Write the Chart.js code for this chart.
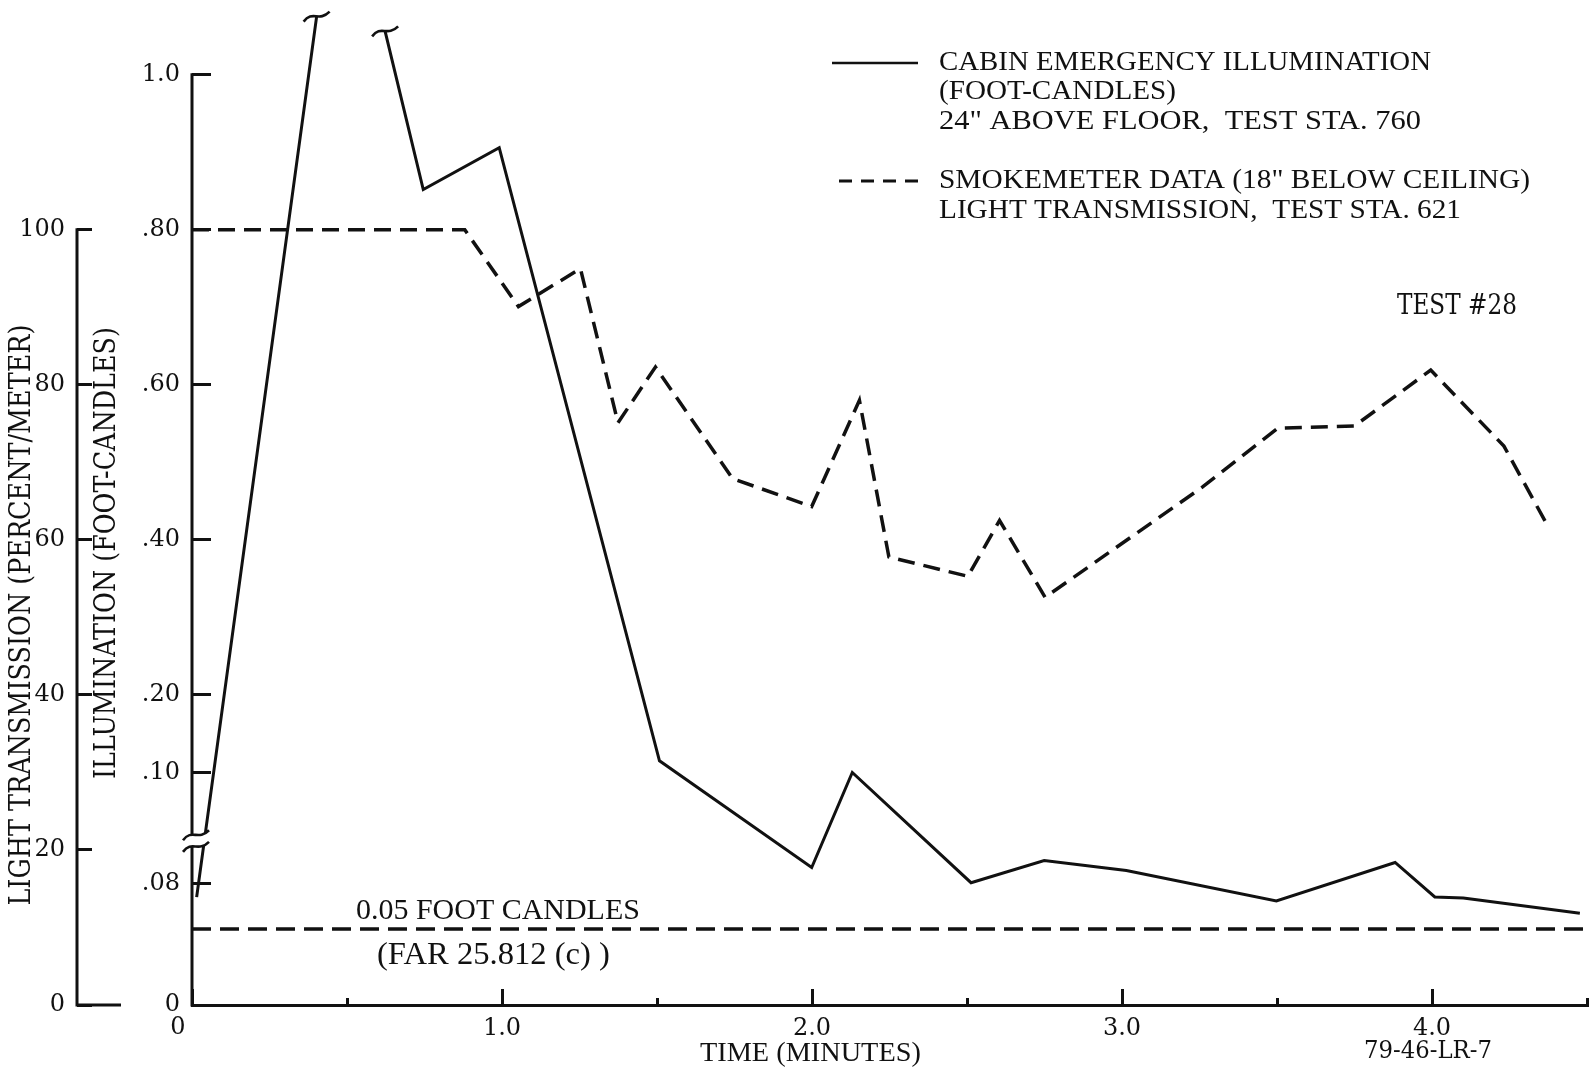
<!DOCTYPE html>
<html>
<head>
<meta charset="utf-8">
<title>Test #28 - cabin emergency illumination and smokemeter data</title>
<script src="https://cdn.jsdelivr.net/npm/chart.js@4.4.1/dist/chart.umd.min.js"></script>
<style>
html, body { margin: 0; padding: 0; background: #ffffff; overflow: hidden; }
canvas { display: block; }
</style>
</head>
<body>
<canvas id="chart" width="1591" height="1073"></canvas>
<script>
// ---------------- data ----------------
// Cabin emergency illumination (foot-candles), time in minutes; null = line goes off scale
const illumTimes  = [0.015, 0.402, 0.51, 0.623, 0.746, 0.991, 1.508, 1.999, 2.130, 2.513, 2.749, 3.014, 3.498, 3.881, 4.009, 4.101, 4.477];
const illumValues = [0.071, 1.075, null, 1.056, 0.852, 0.906, 0.115, 0.0905, 0.100, 0.0805, 0.0951, 0.0885, 0.0685, 0.0938, 0.0711, 0.0704, 0.0604];

// Smokemeter light transmission (percent/meter)
const smokeTimes  = [0, 0.88, 1.053, 1.253, 1.374, 1.495, 1.744, 1.999, 2.153, 2.248, 2.503, 2.605, 2.752, 3.259, 3.502, 3.750, 3.996, 4.232, 4.372];
const smokeValues = [100, 100, 90.1, 95.0, 75.1, 82.3, 67.9, 64.3, 78.0, 57.8, 55.3, 62.5, 52.6, 66.8, 74.4, 74.7, 81.9, 72.1, 61.9];

// FAR 25.812(c) minimum: 0.05 foot-candles
const limitTimes  = [0, 4.5];
const limitValues = [0.05, 0.05];

// tick values and labels
const timeTicks       = [0, 0.5, 1, 1.5, 2, 2.5, 3, 3.5, 4, 4.5];
const timeTickLabels  = ['0', '', '1.0', '', '2.0', '', '3.0', '', '4.0', ''];
const illumTicks      = [0, 0.08, 0.10, 0.20, 0.40, 0.60, 0.80, 1.0];
const illumTickLabels = ['0', '.08', '.10', '.20', '.40', '.60', '.80', '1.0'];
const pctTicks        = [0, 20, 40, 60, 80, 100];
const pctTickLabels   = ['0', '20', '40', '60', '80', '100'];

// texts
const legendIllumText = ['CABIN EMERGENCY ILLUMINATION', '(FOOT-CANDLES)', '24" ABOVE FLOOR,  TEST STA. 760'];
const legendSmokeText = ['SMOKEMETER DATA (18" BELOW CEILING)', 'LIGHT TRANSMISSION,  TEST STA. 621'];
const pctAxisTitle    = 'LIGHT TRANSMISSION (PERCENT/METER)';
const illumAxisTitle  = 'ILLUMINATION (FOOT-CANDLES)';
const timeAxisTitle   = 'TIME (MINUTES)';
const limitText       = ['0.05 FOOT CANDLES', '(FAR 25.812 (c) )'];
const testText        = 'TEST #28';
const figureId        = '79-46-LR-7';

// ---------------- broken illumination axis ----------------
// The illumination axis shares its height with the percent axis; it is
// broken between .08 and .10 (different gain below and above the break).
const ILLUM_BREAK = 0.10;
const LOWER_GAIN  = 196;               // percent-axis units per foot-candle below the break
const UPPER_GAIN  = 100, UPPER_SHIFT = 20;
const AXIS_TOP    = 129;               // top of the plotting area in percent-axis units
function illumToAxis(v) { return v < ILLUM_BREAK ? v * LOWER_GAIN : v * UPPER_GAIN + UPPER_SHIFT; }
function axisToIllum(a) { return a < ILLUM_BREAK * LOWER_GAIN ? a / LOWER_GAIN : (a - UPPER_SHIFT) / UPPER_GAIN; }

class BrokenLinearScale extends Chart.LinearScale {
  static id = 'brokenLinear';
  static defaults = Chart.LinearScale.defaults;
  getPixelForValue(value) {
    if (value === null || value === undefined || Number.isNaN(value)) return NaN;
    return super.getPixelForValue(illumToAxis(value));
  }
  getValueForPixel(pixel) { return axisToIllum(super.getValueForPixel(pixel)); }
}
Chart.register(BrokenLinearScale);

// ---------------- styles ----------------
const INK   = '#111111';
const TYPE  = '"DejaVu Serif", "Liberation Serif", serif';     // typewriter-like slab serif
const SERIF = '"Liberation Serif", "DejaVu Serif", serif';
const tickFont = { family: TYPE, size: 24, weight: 'normal', lineHeight: 1.2 };

function fixWidth(w) { return s => { s.width = w; s.paddingTop = 0; s.paddingBottom = 0; }; }

// ---------------- decorations (spines, breaks, legend, notes) ----------------
function wiggle(cx, cy) {
  return [[cx - 13, cy + 5], [cx - 4, cy - 7], [cx + 2, cy + 6], [cx + 13, cy - 5]];
}
function pathCurve(ctx, p, move) {
  if (move) ctx.moveTo(p[0][0], p[0][1]); else ctx.lineTo(p[0][0], p[0][1]);
  ctx.bezierCurveTo(p[1][0], p[1][1], p[2][0], p[2][1], p[3][0], p[3][1]);
}
function fittedText(ctx, text, family, x, y, width, o = {}) {
  ctx.save();
  ctx.font = `normal 40px ${family}`;
  const size = 40 * width / ctx.measureText(text).width;
  ctx.font = `normal ${size}px ${family}`;
  ctx.translate(x, y);
  if (o.rotate) ctx.rotate(o.rotate);
  ctx.scale(1, o.stretch || 1);
  ctx.textAlign = o.align || 'left';
  ctx.textBaseline = 'middle';
  ctx.fillStyle = INK;
  ctx.fillText(text, 0, 0);
  ctx.restore();
}
function legendLine(ctx, text, x, y, width, size) {
  ctx.save();
  ctx.font = `normal ${size}px ${SERIF}`;
  const w = ctx.measureText(text).width;
  ctx.translate(x, y);
  ctx.scale(width / w, 1);
  ctx.textAlign = 'left';
  ctx.textBaseline = 'middle';
  ctx.fillStyle = INK;
  ctx.fillText(text, 0, 0);
  ctx.restore();
}

const decorPlugin = {
  id: 'decor',
  afterDraw(chart) {
    const { ctx, scales } = chart;
    const xS = scales.x, yP = scales.yPct, yI = scales.yIllum;
    ctx.save();
    ctx.strokeStyle = INK; ctx.fillStyle = INK; ctx.lineWidth = 3; ctx.lineCap = 'butt';
    const seg = (x1, y1, x2, y2) => { ctx.beginPath(); ctx.moveTo(x1, y1); ctx.lineTo(x2, y2); ctx.stroke(); };

    // percent axis spine and its long zero tick
    const xo = yP.right;
    const y0 = yP.getPixelForValue(0);
    seg(xo, y0 + 1.5, xo, yP.getPixelForValue(pctTicks[pctTicks.length - 1]) - 1.5);
    seg(xo, y0, xo + 44, y0);

    // illumination axis spine, broken
    const xi = yI.right;
    const yLow = yP.getPixelForValue(20.4), yHigh = yP.getPixelForValue(21.9);
    seg(xi, yI.getPixelForValue(0) + 1.5, xi, yLow);
    seg(xi, yHigh, xi, yI.getPixelForValue(illumTicks[illumTicks.length - 1]) - 1.5);
    const cx = xi + 4;
    const lowC = wiggle(cx, yLow), highC = wiggle(cx, yHigh);
    ctx.save();
    ctx.fillStyle = '#ffffff';
    ctx.beginPath();
    pathCurve(ctx, lowC, true);
    pathCurve(ctx, highC.slice().reverse(), false);
    ctx.closePath();
    ctx.fill();
    ctx.restore();
    ctx.lineWidth = 2.6;
    ctx.beginPath(); pathCurve(ctx, lowC, true); ctx.stroke();
    ctx.beginPath(); pathCurve(ctx, highC, true); ctx.stroke();

    // off-scale marks at the ends of the illumination line
    const meta = chart.getDatasetMeta(0);
    const gap = illumValues.indexOf(null);
    [gap - 1, gap + 1].forEach(i => {
      const el = meta.data[i];
      ctx.beginPath(); pathCurve(ctx, wiggle(el.x, el.y), true); ctx.stroke();
    });

    // time-axis origin label, set left of the origin as in the original
    ctx.save();
    ctx.font = `normal ${tickFont.size}px ${TYPE}`;
    ctx.textAlign = 'center'; ctx.textBaseline = 'middle'; ctx.fillStyle = INK;
    ctx.fillText(timeTickLabels[0], xS.getPixelForValue(timeTicks[0]) - 14, xS.top + 23);
    ctx.restore();

    // axis titles
    fittedText(ctx, pctAxisTitle, TYPE, yP.left + 22, yP.getPixelForValue(50.3), 581, { rotate: -Math.PI / 2, align: 'center', stretch: 1.2 });
    fittedText(ctx, illumAxisTitle, TYPE, yI.left + 30, yP.getPixelForValue(58.3), 452, { rotate: -Math.PI / 2, align: 'center', stretch: 1.2 });
    fittedText(ctx, timeAxisTitle, SERIF, 700, 1054, 221);

    // legend
    const dsI = chart.data.datasets[0], dsS = chart.data.datasets[1];
    ctx.lineWidth = dsI.borderWidth - 0.5;
    ctx.setLineDash([]);
    seg(832, 63, 918, 63);
    ctx.lineWidth = dsS.borderWidth - 0.5;
    ctx.setLineDash([13, 9]);
    seg(839, 181, 918, 181);
    ctx.setLineDash([]);
    const legSize = 27;
    legendLine(ctx, legendIllumText[0], 939, 63, 492, legSize);
    legendLine(ctx, legendIllumText[1], 939, 92, 237, legSize);
    legendLine(ctx, legendIllumText[2], 939, 122, 482, legSize);
    legendLine(ctx, legendSmokeText[0], 939, 181, 591, legSize);
    legendLine(ctx, legendSmokeText[1], 939, 211, 522, legSize);

    // notes
    fittedText(ctx, testText, TYPE, 1397, 307, 120, { stretch: 1.2 });
    fittedText(ctx, limitText[0], SERIF, 356, 911, 284);
    fittedText(ctx, limitText[1], SERIF, 377, 955, 233);
    fittedText(ctx, figureId, TYPE, 1364, 1051, 128, { stretch: 1.1 });
    ctx.restore();
  }
};

// ---------------- chart ----------------
const pairs = (xs, ys) => xs.map((x, i) => ({ x: x, y: ys[i] }));

new Chart(document.getElementById('chart'), {
  type: 'line',
  data: {
    datasets: [
      { label: 'Cabin emergency illumination', data: pairs(illumTimes, illumValues), yAxisID: 'yIllum',
        borderColor: INK, borderWidth: 3, pointRadius: 0, tension: 0, fill: false, spanGaps: false },
      { label: 'Smokemeter data', data: pairs(smokeTimes, smokeValues), yAxisID: 'yPct',
        borderColor: INK, borderWidth: 3.5, borderDash: [17, 9], pointRadius: 0, tension: 0, fill: false },
      { label: '0.05 foot candles', data: pairs(limitTimes, limitValues), yAxisID: 'yIllum',
        borderColor: INK, borderWidth: 3.5, borderDash: [19, 9], pointRadius: 0, tension: 0, fill: false }
    ]
  },
  options: {
    responsive: false,
    devicePixelRatio: 1,
    animation: false,
    events: [],
    layout: { padding: { left: 0, right: 4, top: 5, bottom: 0 } },
    plugins: { legend: { display: false }, tooltip: { enabled: false }, title: { display: false } },
    scales: {
      x: {
        type: 'linear', position: 'bottom', min: 0, max: 4.5, bounds: 'data',
        afterBuildTicks: s => { s.ticks = timeTicks.map(v => ({ value: v })); },
        afterFit: s => { s.height = 68; s.paddingLeft = 0; s.paddingRight = 0; },
        border: { display: true, color: INK, width: 3 },
        grid: {
          drawOnChartArea: false, drawTicks: true, tickLength: -16, tickWidth: 3, tickColor: INK,
          tickBorderDash: c => (timeTickLabels[c.index] ? [] : [9, 100])
        },
        ticks: { autoSkip: false, maxRotation: 0, color: INK, font: tickFont, padding: 25,
                 callback: (v, i) => (i === 0 ? '' : timeTickLabels[i]) }
      },
      yPct: {
        type: 'linear', position: 'left', weight: 1, min: 0, max: AXIS_TOP, bounds: 'data',
        afterBuildTicks: s => { s.ticks = pctTicks.map(v => ({ value: v })); },
        afterFit: fixWidth(77),
        border: { display: false },
        grid: { drawOnChartArea: false, drawTicks: true, tickLength: -15, tickWidth: 3, tickColor: INK },
        ticks: { autoSkip: false, color: INK, font: tickFont, padding: 27,
                 callback: (v, i) => pctTickLabels[i] }
      },
      yIllum: {
        type: 'brokenLinear', position: 'left', weight: 0, min: 0, max: AXIS_TOP, bounds: 'data',
        afterBuildTicks: s => { s.ticks = illumTicks.map(v => ({ value: v })); },
        afterFit: fixWidth(115),
        border: { display: false },
        grid: { drawOnChartArea: false, drawTicks: true, tickLength: -19, tickWidth: 3, tickColor: INK },
        ticks: { autoSkip: false, color: INK, font: tickFont, padding: 31,
                 callback: (v, i) => illumTickLabels[i] }
      }
    }
  },
  plugins: [decorPlugin]
});
</script>
</body>
</html>
